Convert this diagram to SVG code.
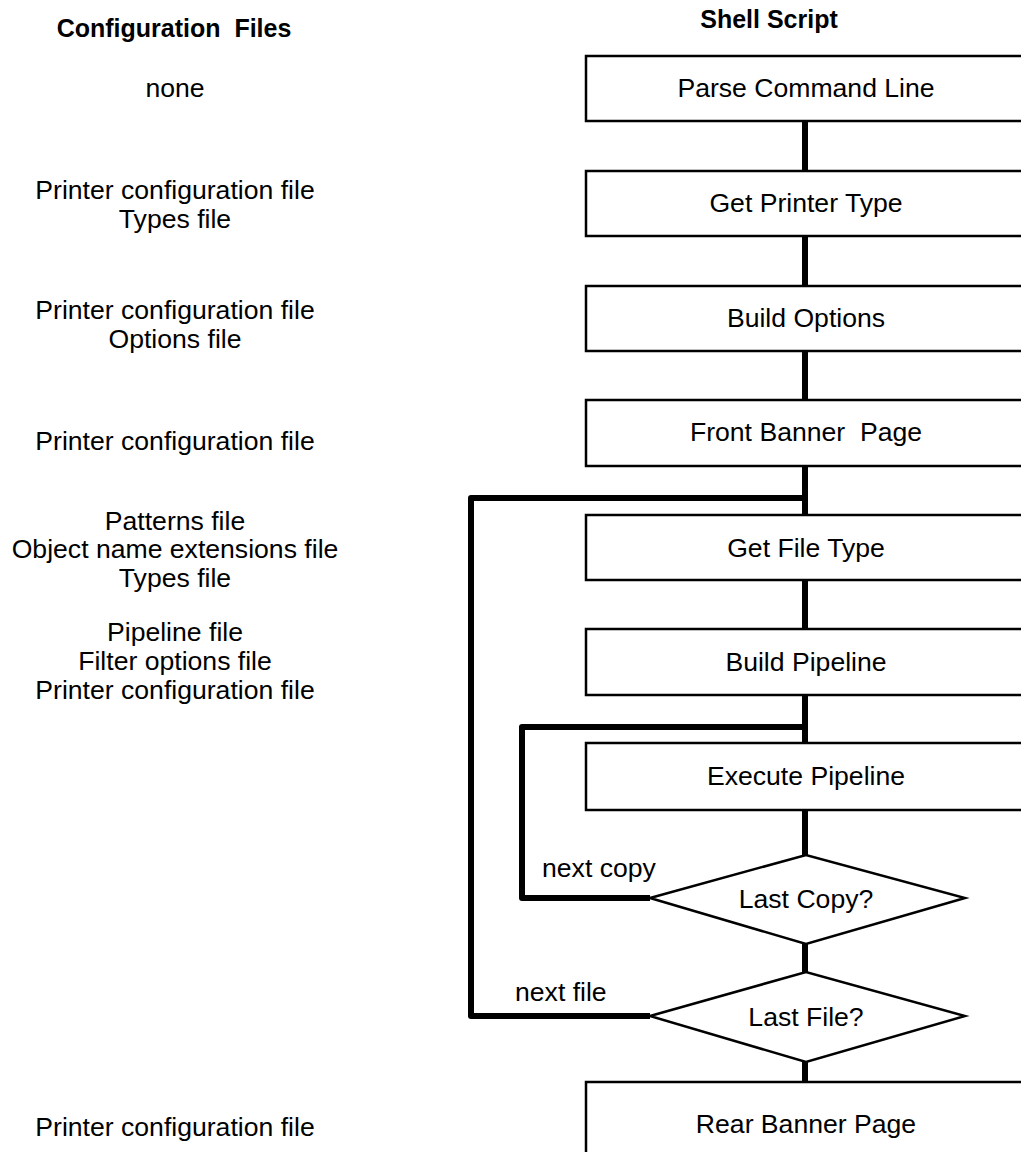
<svg xmlns="http://www.w3.org/2000/svg" width="1021" height="1152" viewBox="0 0 1021 1152">
<style>
text{font-family:"Liberation Sans",Arial,sans-serif;font-size:26.6px;fill:#000;text-anchor:middle}
.hdr{font-weight:bold;font-size:25px}
.lbl{text-anchor:start}
.box{fill:#fff;stroke:#000;stroke-width:2.5}
.dia{fill:#fff;stroke:#000;stroke-width:2.5}
.con{fill:none;stroke:#000;stroke-width:6;stroke-linejoin:round;stroke-linecap:butt}
</style>
<rect width="1021" height="1152" fill="#fff"/>
<g id="headers">
<text class="hdr" x="174" y="37" xml:space="preserve">Configuration  Files</text>
<text class="hdr" x="769" y="28">Shell Script</text>
</g>
<g id="config-files">
<text x="175" y="97">none</text>
<text x="175" y="199">Printer configuration file</text>
<text x="175" y="228">Types file</text>
<text x="175" y="319">Printer configuration file</text>
<text x="175" y="348">Options file</text>
<text x="175" y="450">Printer configuration file</text>
<text x="175" y="530">Patterns file</text>
<text x="175" y="558">Object name extensions file</text>
<text x="175" y="587">Types file</text>
<text x="175" y="641">Pipeline file</text>
<text x="175" y="670">Filter options file</text>
<text x="175" y="699">Printer configuration file</text>
<text x="175" y="1136">Printer configuration file</text>
</g>
<g id="connectors">
<line class="con" x1="805" y1="121" x2="805" y2="171"/>
<line class="con" x1="805" y1="236" x2="805" y2="286"/>
<line class="con" x1="805" y1="351" x2="805" y2="400"/>
<line class="con" x1="805" y1="466" x2="805" y2="515"/>
<line class="con" x1="805" y1="580" x2="805" y2="629"/>
<line class="con" x1="805" y1="695" x2="805" y2="743"/>
<line class="con" x1="805" y1="810" x2="805" y2="855"/>
<line class="con" x1="805" y1="944" x2="805" y2="972"/>
<line class="con" x1="805" y1="1062" x2="805" y2="1082"/>
<path class="con" d="M805,498 H471 V1016 H650"/>
<path class="con" d="M805,727 H522 V898 H650"/>
</g>
<g id="n1"><rect class="box" x="586" y="56" width="460" height="65"/><text x="806" y="97">Parse Command Line</text></g>
<g id="n2"><rect class="box" x="586" y="171" width="460" height="65"/><text x="806" y="212">Get Printer Type</text></g>
<g id="n3"><rect class="box" x="586" y="286" width="460" height="65"/><text x="806" y="327">Build Options</text></g>
<g id="n4"><rect class="box" x="586" y="400" width="460" height="66"/><text x="806" y="441" xml:space="preserve">Front Banner  Page</text></g>
<g id="n5"><rect class="box" x="586" y="515" width="460" height="65"/><text x="806" y="557">Get File Type</text></g>
<g id="n6"><rect class="box" x="586" y="629" width="460" height="66"/><text x="806" y="671">Build Pipeline</text></g>
<g id="n7"><rect class="box" x="586" y="743" width="460" height="67"/><text x="806" y="785">Execute Pipeline</text></g>
<g id="d1"><polygon class="dia" points="650,898 806,855 965,898 806,944"/><text x="806" y="908">Last Copy?</text></g>
<g id="d2"><polygon class="dia" points="650,1016 806,972 965,1016 806,1062"/><text x="806" y="1026">Last File?</text></g>
<g id="n8"><rect class="box" x="586" y="1082" width="460" height="90"/><text x="806" y="1133">Rear Banner Page</text></g>
<g id="labels">
<text class="lbl" x="542" y="877">next copy</text>
<text class="lbl" x="515" y="1001">next file</text>
</g>
</svg>
